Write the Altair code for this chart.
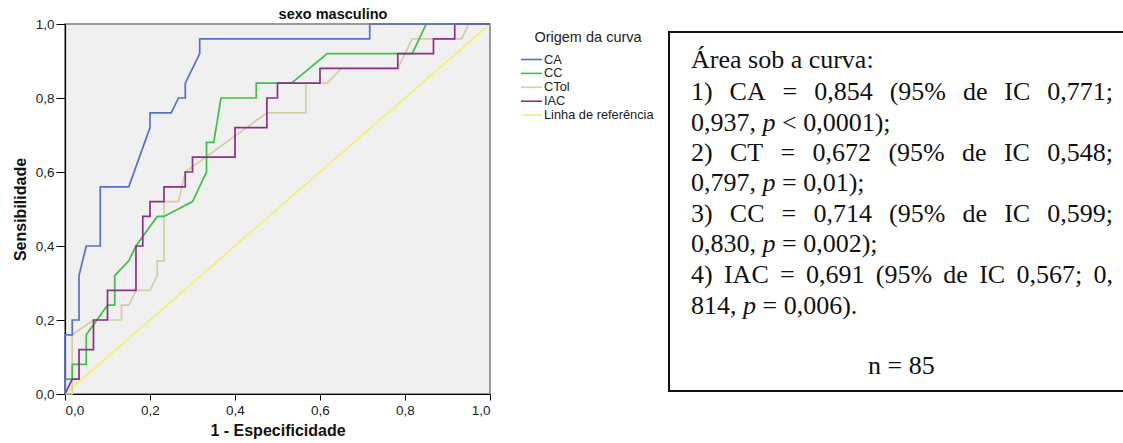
import altair as alt
import pandas as pd

# ---------------- data ----------------
series_names = ["CA", "CC", "CTol", "IAC", "Linha de referência"]
series_colors = ["#5670c8", "#3fbf46", "#d6cea0", "#8a2f8a", "#f4ee74"]

ca_fpr = [0, 0, 0.017, 0.017, 0.033, 0.033, 0.05, 0.083, 0.083, 0.15, 0.2, 0.2, 0.25, 0.267, 0.283, 0.283, 0.317, 0.317, 0.717, 0.717, 1.0]
ca_sens = [0, 0.16, 0.16, 0.2, 0.2, 0.32, 0.4, 0.4, 0.56, 0.56, 0.72, 0.76, 0.76, 0.8, 0.8, 0.84, 0.92, 0.96, 0.96, 1.0, 1.0]

cc_fpr = [0, 0, 0.017, 0.017, 0.05, 0.05, 0.1, 0.117, 0.117, 0.15, 0.167, 0.217, 0.233, 0.3, 0.333, 0.333, 0.35, 0.367, 0.45, 0.45, 0.533, 0.617, 0.817, 0.85, 1.0]
cc_sens = [0, 0.04, 0.04, 0.08, 0.08, 0.16, 0.24, 0.24, 0.32, 0.36, 0.4, 0.48, 0.48, 0.52, 0.6, 0.68, 0.68, 0.8, 0.8, 0.84, 0.84, 0.92, 0.92, 1.0, 1.0]

ctol_fpr = [0, 0.017, 0.017, 0.067, 0.133, 0.133, 0.15, 0.167, 0.2, 0.217, 0.217, 0.233, 0.233, 0.267, 0.283, 0.475, 0.567, 0.567, 0.617, 0.65, 0.783, 0.817, 0.933, 0.95, 1.0]
ctol_sens = [0, 0, 0.16, 0.2, 0.2, 0.24, 0.24, 0.28, 0.28, 0.32, 0.36, 0.36, 0.52, 0.52, 0.6, 0.76, 0.76, 0.84, 0.84, 0.88, 0.88, 0.96, 0.96, 1.0, 1.0]

iac_fpr = [0, 0.017, 0.033, 0.033, 0.067, 0.067, 0.1, 0.1, 0.167, 0.167, 0.183, 0.183, 0.2, 0.2, 0.233, 0.233, 0.283, 0.283, 0.3, 0.3, 0.4, 0.4, 0.475, 0.475, 0.5, 0.5, 0.6, 0.6, 0.783, 0.783, 0.867, 0.867, 0.917, 0.917, 1.0]
iac_sens = [0, 0.04, 0.04, 0.12, 0.12, 0.2, 0.2, 0.28, 0.28, 0.4, 0.4, 0.48, 0.48, 0.52, 0.52, 0.56, 0.56, 0.6, 0.6, 0.64, 0.64, 0.72, 0.72, 0.8, 0.8, 0.84, 0.84, 0.88, 0.88, 0.92, 0.92, 0.96, 0.96, 1.0, 1.0]

ref_fpr = [0, 1.0]
ref_sens = [0, 1.0]

axis_ticks = [0, 0.2, 0.4, 0.6, 0.8, 1.0]

chart_title = "sexo masculino"
legend_title = "Origem da curva"
x_title = "1 - Especificidade"
y_title = "Sensibilidade"

text_lines = [
    "Área sob a curva:",
    "1) CA = 0,854 (95% de IC 0,771;",
    "0,937, p < 0,0001);",
    "2) CT = 0,672 (95% de IC 0,548;",
    "0,797, p = 0,01);",
    "3) CC = 0,714 (95% de IC 0,599;",
    "0,830, p = 0,002);",
    "4) IAC = 0,691 (95% de IC 0,567; 0,",
    "814, p = 0,006).",
    "n = 85",
]
justified = [False, True, False, True, False, True, False, True, False, False]

# ---------------- layout (pixels in page coordinates) ----------------
OX, OY = 65, 24          # plot origin on the page
PW, PH = 425, 370        # plot size
W, H = 1123, 443

FS = 26                  # text box font size
TXT_LEFT, TXT_RIGHT = 691, 1113
line_base = [68, 99.5, 130.5, 160.5, 191, 221.5, 252, 283, 313.5, 374]

# Times / Liberation Serif advance widths (1/1000 em) for the characters used
_tw = {" ": 250, ",": 250, ".": 250, "(": 333, ")": 333, "%": 833, ";": 278, ":": 278,
       "=": 564, "<": 564, "C": 667, "A": 722, "T": 611, "I": 333, "Á": 722,
       "d": 500, "e": 444, "p": 500, "n": 500, "r": 333, "s": 389, "o": 500,
       "b": 500, "a": 444, "c": 444, "u": 500, "v": 500}


def tw(s):
    return sum(_tw.get(ch, 500) for ch in s) * FS / 1000.0


segs = []
for i, line in enumerate(text_lines):
    y = line_base[i] - OY
    if i == len(text_lines) - 1:
        segs.append({"t": line, "x": 868 - OX, "y": y, "it": False})
        continue
    words = line.split(" ")
    if justified[i]:
        gap = (TXT_RIGHT - TXT_LEFT - sum(tw(w) for w in words)) / (len(words) - 1)
    else:
        gap = tw(" ")
    x = TXT_LEFT
    for w in words:
        segs.append({"t": w, "x": x - OX, "y": y, "it": w == "p"})
        x += tw(w) + gap
seg_df = pd.DataFrame(segs)

rows = []
for name, fx, sy in [
    ("Linha de referência", ref_fpr, ref_sens),
    ("CTol", ctol_fpr, ctol_sens),
    ("CC", cc_fpr, cc_sens),
    ("IAC", iac_fpr, iac_sens),
    ("CA", ca_fpr, ca_sens),
]:
    for k, (a, b) in enumerate(zip(fx, sy)):
        rows.append({"series": name, "i": k, "fpr": a, "sens": b})
curve_df = pd.DataFrame(rows)

label_expr = "replace(format(datum.value, '.1f'), '.', ',')"
color_scale = alt.Scale(domain=series_names, range=series_colors)

x_enc = alt.X("fpr:Q", scale=alt.Scale(domain=[0, 1], nice=False), title=x_title,
              axis=alt.Axis(values=axis_ticks, labelExpr=label_expr, tickSize=6,
                            labelPadding=3, titlePadding=6, grid=False,
                            domainColor="#000", tickColor="#000"))
y_enc = alt.Y("sens:Q", scale=alt.Scale(domain=[0, 1], nice=False), title=y_title,
              axis=alt.Axis(values=axis_ticks, labelExpr=label_expr, tickSize=9,
                            labelPadding=2, titlePadding=7, grid=False,
                            domainColor="#000", tickColor="#000"))

layers = []
for name in ["Linha de referência", "CTol", "CC", "IAC", "CA"]:
    layers.append(
        alt.Chart(curve_df).transform_filter(alt.datum.series == name)
        .mark_line(strokeWidth=1.7)
        .encode(x=x_enc, y=y_enc,
                color=alt.Color("series:N", scale=color_scale, legend=None),
                order="i:Q")
    )
curves = alt.layer(*layers)

# title
title_df = pd.DataFrame([{"t": chart_title, "x": 333 - OX, "y": 15 - OY}])
title_layer = alt.Chart(title_df).mark_text(
    font="Liberation Sans", fontSize=14.5, fontWeight="bold", align="center",
    baseline="middle", color="#111"
).encode(x=alt.X("x:Q", scale=None, axis=None), y=alt.Y("y:Q", scale=None, axis=None), text="t:N")

# legend (manual)
leg_rows = []
for k, name in enumerate(series_names):
    leg_rows.append({"series": name, "x1": 521 - OX, "x2": 542 - OX,
                     "y": 59.5 + 13.9 * k - OY, "lx": 544 - OX})
leg_df = pd.DataFrame(leg_rows)
leg_lines = alt.Chart(leg_df).mark_rule(strokeWidth=1.6).encode(
    x=alt.X("x1:Q", scale=None, axis=None), x2="x2:Q",
    y=alt.Y("y:Q", scale=None, axis=None),
    color=alt.Color("series:N", scale=color_scale, legend=None))
leg_text = alt.Chart(leg_df).mark_text(
    font="Liberation Sans", fontSize=12.8, align="left", baseline="middle", color="#222"
).encode(x=alt.X("lx:Q", scale=None, axis=None), y=alt.Y("y:Q", scale=None, axis=None), text="series:N")
leg_title_df = pd.DataFrame([{"t": legend_title, "x": 588 - OX, "y": 38 - OY}])
leg_title = alt.Chart(leg_title_df).mark_text(
    font="Liberation Sans", fontSize=14.5, align="center", baseline="middle", color="#222"
).encode(x=alt.X("x:Q", scale=None, axis=None), y=alt.Y("y:Q", scale=None, axis=None), text="t:N")

# text box
box_df = pd.DataFrame([{"x1": 669 - OX, "x2": 1135 - OX, "y1": 32 - OY, "y2": 391 - OY}])
box = alt.Chart(box_df).mark_rect(fill="white", fillOpacity=0, stroke="#111", strokeWidth=2).encode(
    x=alt.X("x1:Q", scale=None, axis=None), x2="x2:Q",
    y=alt.Y("y1:Q", scale=None, axis=None), y2="y2:Q")

txt_normal = alt.Chart(seg_df).transform_filter(alt.datum.it == False).mark_text(
    font="Liberation Serif", fontSize=FS, align="left", baseline="alphabetic", color="#111"
).encode(x=alt.X("x:Q", scale=None, axis=None), y=alt.Y("y:Q", scale=None, axis=None), text="t:N")
txt_italic = alt.Chart(seg_df).transform_filter(alt.datum.it == True).mark_text(
    font="Liberation Serif", fontSize=FS, fontStyle="italic", align="left", baseline="alphabetic", color="#111"
).encode(x=alt.X("x:Q", scale=None, axis=None), y=alt.Y("y:Q", scale=None, axis=None), text="t:N")

chart = alt.layer(
    curves, title_layer, leg_lines, leg_text, leg_title, box, txt_normal, txt_italic
).resolve_scale(x="independent", y="independent").properties(
    width=PW, height=PH,
    autosize=alt.AutoSizeParams(type="none"),
    padding={"left": OX, "top": OY, "right": W - OX - PW, "bottom": H - OY - PH},
    background="white",
).configure_view(
    fill="#f0f0f0", stroke="#7a7a7a", strokeWidth=1.5
).configure_axis(
    labelFont="Liberation Sans", labelFontSize=13.5, labelColor="#222",
    titleFont="Liberation Sans", titleFontSize=16, titleFontWeight="bold", titleColor="#111",
    domainWidth=1.2,
)

chart.save("out.html", embed_options={"renderer": "svg", "actions": False})
